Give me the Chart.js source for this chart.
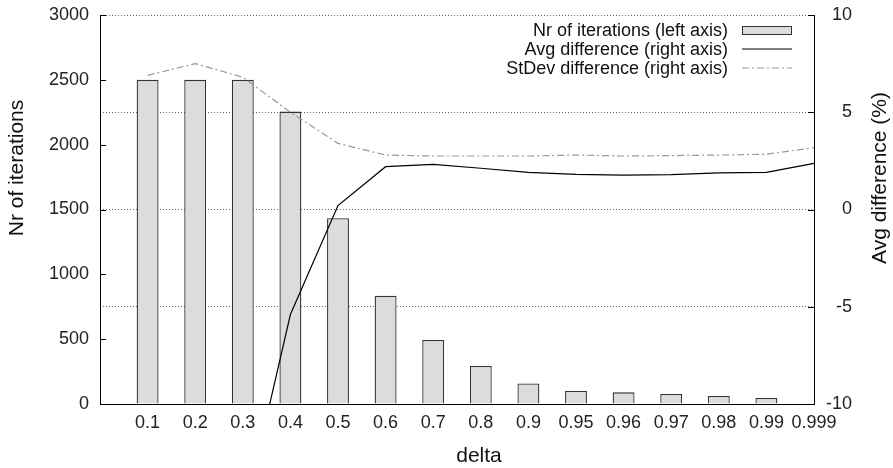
<!DOCTYPE html>
<html>
<head>
<meta charset="utf-8">
<script src="https://cdn.jsdelivr.net/npm/chart.js@4.4.1/dist/chart.umd.min.js"></script>
<style>
  html, body { margin: 0; padding: 0; background: #fff; }
  #wrap { position: relative; width: 893px; height: 468px; font-family: "Liberation Sans", Arial, sans-serif; color: #111; }
  #legend { position: absolute; right: 101px; top: 21px; font-size: 18px; }
  #legend .row { display: flex; justify-content: flex-end; align-items: center; height: 18.8px; }
  #legend .sw { width: 50px; margin-left: 14px; height: 10px; position: relative; }
  #legend .sw.bar { box-sizing: border-box; height: 9px; background: #dcdcdc; border: 1.3px solid #333; }
  #legend .sw svg { position: absolute; left: 0; top: 0; }
</style>
</head>
<body>
<div id="wrap">
  <canvas id="deltaChart"></canvas>
  <div id="legend">
    <div class="row"><span>Nr of iterations (left axis)</span><span class="sw bar"></span></div>
    <div class="row"><span>Avg difference (right axis)</span><span class="sw"><svg width="50" height="10"><line x1="0" y1="5" x2="50" y2="5" stroke="#000" stroke-width="1.2"/></svg></span></div>
    <div class="row"><span>StDev difference (right axis)</span><span class="sw"><svg width="50" height="10"><line x1="0" y1="5" x2="50" y2="5" stroke="#999" stroke-width="1.2" stroke-dasharray="7 3 2 3"/></svg></span></div>
  </div>
</div>
<script>
// categories (leading blank slot: gnuplot leaves one empty step before 0.1)
const deltaLabels = ['', '0.1', '0.2', '0.3', '0.4', '0.5', '0.6', '0.7', '0.8', '0.9', '0.95', '0.96', '0.97', '0.98', '0.99', '0.999'];

// series
const nrIterations = [null, 2500, 2500, 2500, 2255, 1432, 835, 494, 293, 158, 100, 90, 77, 62, 46, 0];
const avgDiff      = [null, null, null, -16, -5.4, 0.2, 2.2, 2.32, 2.12, 1.91, 1.81, 1.77, 1.79, 1.88, 1.91, 2.37];
const stdevDiff    = [null, 6.9, 7.5, 6.8, 5.0, 3.4, 2.8, 2.75, 2.75, 2.75, 2.8, 2.75, 2.77, 2.8, 2.84, 3.18];

// axis ranges
const leftRange = { min: 0, max: 3000, step: 500 };
const rightRange = { min: -10, max: 10, step: 5 };

const FONT = '"Liberation Sans", Arial, sans-serif';

// gnuplot style inward tick marks + rotated axis titles
const extras = {
    id: 'extras',
    afterDraw(chart) {
        const ctx = chart.ctx;
        const area = chart.chartArea;
        ctx.save();
        ctx.strokeStyle = '#000';
        ctx.lineWidth = 1;
        ctx.beginPath();
        chart.scales.y.ticks.forEach(t => {
            const py = Math.round(chart.scales.y.getPixelForValue(t.value)) + 0.5;
            ctx.moveTo(area.left, py);
            ctx.lineTo(area.left + 6, py);
        });
        chart.scales.y2.ticks.forEach(t => {
            const py = Math.round(chart.scales.y2.getPixelForValue(t.value)) + 0.5;
            ctx.moveTo(area.right - 6, py);
            ctx.lineTo(area.right, py);
        });
        ctx.stroke();

        ctx.fillStyle = '#111';
        ctx.font = '21px ' + FONT;
        ctx.textAlign = 'center';
        ctx.textBaseline = 'middle';
        // left title
        ctx.save();
        ctx.translate(17, 168);
        ctx.rotate(-Math.PI / 2);
        ctx.fillText('Nr of iterations', 0, 0);
        ctx.restore();
        // right title (reads bottom to top like the left one)
        ctx.save();
        ctx.translate(880, 178);
        ctx.rotate(-Math.PI / 2);
        ctx.fillText('Avg difference (%)', 0, 0);
        ctx.restore();
        // x title
        ctx.fillText('delta', 479, 456);
        ctx.restore();
    }
};

const ctx = document.getElementById('deltaChart').getContext('2d');
new Chart(ctx, {
    type: 'bar',
    data: {
        labels: deltaLabels,
        datasets: [
            {
                label: 'Nr of iterations (left axis)',
                data: nrIterations,
                yAxisID: 'y',
                backgroundColor: '#dcdcdc',
                borderColor: '#333',
                borderWidth: 1.3,
                categoryPercentage: 1,
                barPercentage: 0.46,
                order: 2
            },
            {
                type: 'line',
                label: 'Avg difference (right axis)',
                data: avgDiff,
                yAxisID: 'y2',
                borderColor: '#000',
                borderWidth: 1.2,
                pointRadius: 0,
                tension: 0,
                order: 0
            },
            {
                type: 'line',
                label: 'StDev difference (right axis)',
                data: stdevDiff,
                yAxisID: 'y2',
                borderColor: '#999',
                borderWidth: 1.2,
                borderDash: [7, 3, 2, 3],
                pointRadius: 0,
                tension: 0,
                order: 1
            }
        ]
    },
    options: {
        responsive: true,
        maintainAspectRatio: false,
        animation: false,
        layout: { padding: { top: 15, left: 0, right: 41, bottom: 0 } },
        plugins: {
            legend: { display: false },
            tooltip: { enabled: false }
        },
        scales: {
            x: {
                offset: false,
                grid: { display: false, drawTicks: false },
                border: { display: true, color: '#000', width: 1 },
                ticks: { color: '#222', font: { size: 18, family: FONT }, padding: 8, maxRotation: 0, autoSkip: false },
                afterFit: s => { s.height = 64; s.paddingLeft = 0; s.paddingRight = 0; }
            },
            y: {
                position: 'left',
                min: leftRange.min,
                max: leftRange.max,
                grid: { drawOnChartArea: false, drawTicks: false },
                border: { display: true, color: '#000', width: 1 },
                ticks: { stepSize: leftRange.step, color: '#222', font: { size: 18, family: FONT }, padding: 11, callback: v => String(v) },
                afterFit: s => { s.width = 100; s.paddingTop = 0; s.paddingBottom = 0; }
            },
            y2: {
                position: 'right',
                min: rightRange.min,
                max: rightRange.max,
                grid: { drawOnChartArea: true, drawTicks: false, color: '#666', lineWidth: 1 },
                border: { display: true, color: '#000', width: 1, dash: [1, 2] },
                ticks: { stepSize: rightRange.step, color: '#222', font: { size: 18, family: FONT }, padding: 9, crossAlign: 'far' },
                afterFit: s => { s.width = 38; s.paddingTop = 0; s.paddingBottom = 0; }
            }
        }
    },
    plugins: [extras]
});
</script>
</body>
</html>
